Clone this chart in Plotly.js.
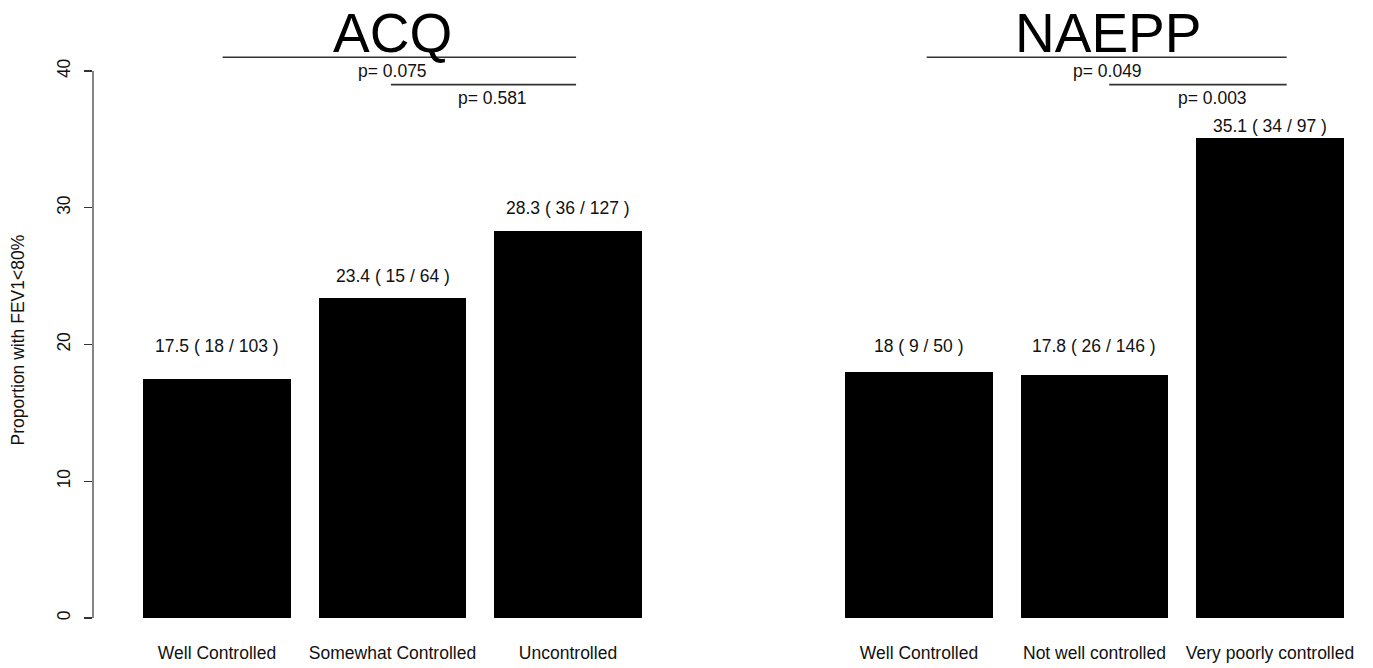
<!DOCTYPE html>
<html>
<head>
<meta charset="utf-8">
<script src="https://cdn.plot.ly/plotly-3.0.1.min.js"></script>
<style>
  html, body { margin: 0; padding: 0; background: #fff; }
  #chart { width: 1373px; height: 668px; }
</style>
</head>
<body>
<div id="chart"></div>
<script>
// Proportion of patients with FEV1 < 80% by asthma control category
const acqCategories = ['Well Controlled', 'Somewhat Controlled', 'Uncontrolled'];
const acqValues = [17.5, 23.4, 28.3];
const acqCases = [18, 15, 36];
const acqTotals = [103, 64, 127];
const acqPValues = ['0.075', '0.581'];

const naeppCategories = ['Well Controlled', 'Not well controlled', 'Very poorly controlled'];
const naeppValues = [18, 17.8, 35.1];
const naeppCases = [9, 26, 34];
const naeppTotals = [50, 146, 97];
const naeppPValues = ['0.049', '0.003'];

const groupTitles = ['ACQ', 'NAEPP'];
const yTicks = [0, 10, 20, 30, 40];
const yTitle = 'Proportion with FEV1<80%';

// ---- layout geometry (bar slots, label heights, bracket spans) ----
const acqSlots = [0, 1, 2];
const naeppSlots = [4, 5, 6];
const acqLabelLevels = [19.9, 25.0, 30.0];
const naeppLabelLevels = [19.9, 19.9, 36.0];
const FONT = 'Liberation Sans, Arial, sans-serif';
const TXT = '#111';
const textSize = 17.5;

const traces = [
  {
    type: 'bar', x: acqSlots, y: acqValues, width: 0.843,
    marker: { color: '#000', line: { width: 0 } }, hoverinfo: 'skip', showlegend: false
  },
  {
    type: 'bar', x: naeppSlots, y: naeppValues, width: 0.843,
    marker: { color: '#000', line: { width: 0 } }, hoverinfo: 'skip', showlegend: false
  }
];

const annotations = [];
function barLabels(slots, values, cases, totals, levels) {
  slots.forEach((s, i) => {
    annotations.push({
      x: s, y: levels[i], xref: 'x', yref: 'y',
      text: values[i] + ' ( ' + cases[i] + ' / ' + totals[i] + ' )',
      showarrow: false, xanchor: 'center', yanchor: 'middle',
      font: { family: FONT, size: textSize, color: TXT }
    });
  });
}
barLabels(acqSlots, acqValues, acqCases, acqTotals, acqLabelLevels);
barLabels(naeppSlots, naeppValues, naeppCases, naeppTotals, naeppLabelLevels);

// group titles
[[1.0, groupTitles[0]], [5.077, groupTitles[1]]].forEach(([x, t]) => {
  annotations.push({
    x: x, y: 42.75, xref: 'x', yref: 'y', text: t, showarrow: false,
    xanchor: 'center', yanchor: 'middle',
    font: { family: FONT, size: 55, color: '#000' }
  });
});

// significance brackets: [x0, x1, line level, text x, text level, p]
const brackets = [
  [0.032, 2.046, 41, 1.0, 40, acqPValues[0]],
  [0.991, 2.046, 39, 1.567, 38, acqPValues[1]],
  [4.044, 6.095, 41, 5.077, 40, naeppPValues[0]],
  [5.084, 6.095, 39, 5.67, 38, naeppPValues[1]]
];
const shapes = [];
brackets.forEach(b => {
  shapes.push({
    type: 'line', xref: 'x', yref: 'y', x0: b[0], x1: b[1], y0: b[2], y1: b[2],
    line: { color: '#333', width: 1.6 }
  });
  annotations.push({
    x: b[3], y: b[4], xref: 'x', yref: 'y', text: 'p= ' + b[5], showarrow: false,
    xanchor: 'center', yanchor: 'middle',
    font: { family: FONT, size: textSize, color: TXT }
  });
});

// y-axis title, centred on the tick span
annotations.push({
  x: 0, xref: 'paper', xshift: -75, xanchor: 'center',
  y: 20.3, yref: 'y', yanchor: 'middle',
  text: yTitle, textangle: -90, showarrow: false,
  font: { family: FONT, size: textSize, color: TXT }
});

// left axis line spanning the tick range only
shapes.push({
  type: 'line', xref: 'paper', yref: 'y', x0: 0, x1: 0,
  y0: yTicks[0], y1: yTicks[yTicks.length - 1],
  line: { color: '#333', width: 1.2 }
});

const layout = {
  width: 1373, height: 668,
  margin: { l: 93, r: 13, t: 10, b: 50 },
  paper_bgcolor: '#fff', plot_bgcolor: '#fff',
  showlegend: false,
  bargap: 0,
  xaxis: {
    range: [-0.7066, 6.513], showgrid: false, zeroline: false, showline: false,
    tickmode: 'array', tickvals: acqSlots.concat(naeppSlots),
    ticktext: acqCategories.concat(naeppCategories),
    ticks: '', ticklabelstandoff: 22,
    tickfont: { family: FONT, size: textSize, color: TXT },
    fixedrange: true
  },
  yaxis: {
    range: [0, 608 / 13.675], showgrid: false, zeroline: false, showline: false,
    tickmode: 'array', tickvals: yTicks, ticktext: yTicks.map(String),
    ticks: 'outside', ticklen: 8, tickwidth: 1.2, tickcolor: '#333',
    tickangle: -90, ticklabelstandoff: 7,
    tickfont: { family: FONT, size: textSize, color: TXT },
    fixedrange: true
  },
  shapes: shapes,
  annotations: annotations
};

Plotly.newPlot('chart', traces, layout, { displayModeBar: false, staticPlot: true });
</script>
</body>
</html>
